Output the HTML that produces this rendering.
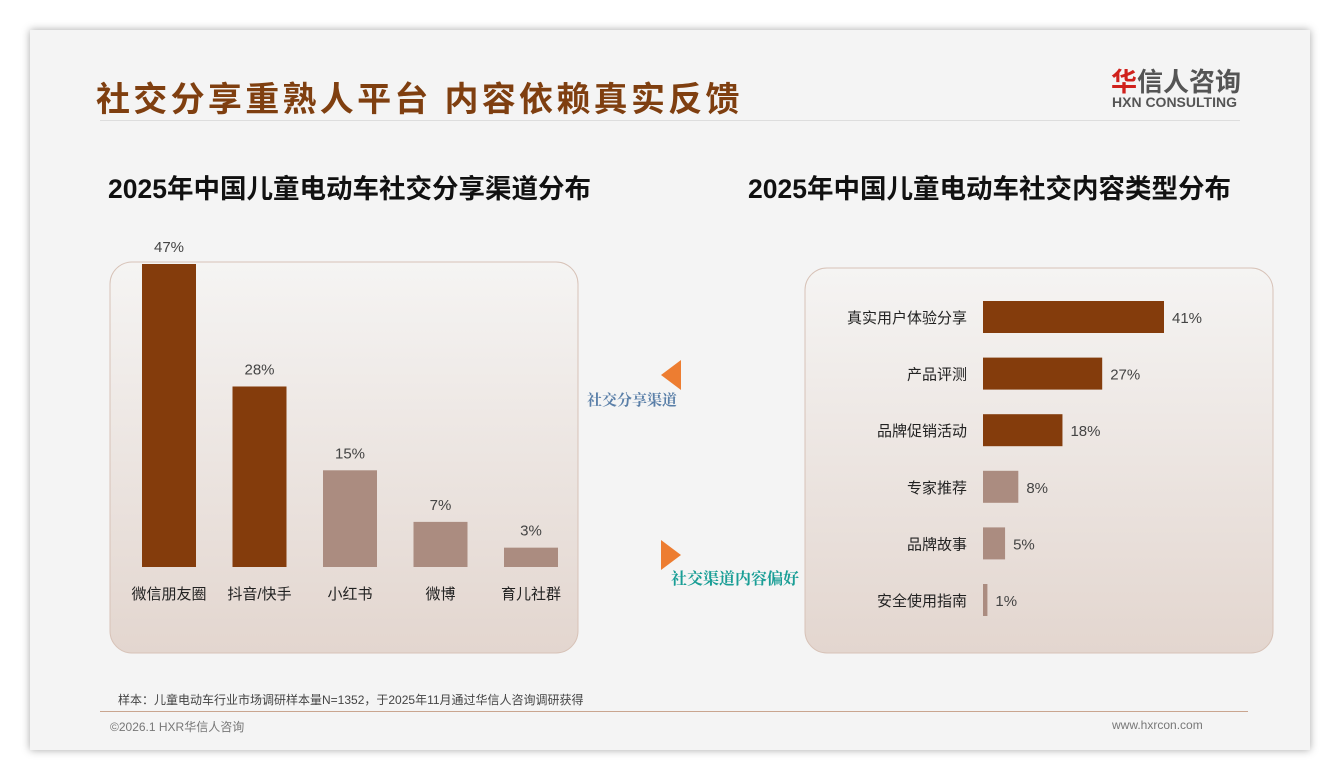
<!DOCTYPE html>
<html><head><meta charset="utf-8">
<style>
body{margin:0;width:1340px;height:780px;background:#fff;font-family:"Liberation Sans","Noto Sans CJK SC",sans-serif;position:relative;overflow:hidden}
#card{position:absolute;left:30px;top:30px;width:1280px;height:720px;background:#f4f4f4;box-shadow:0 0 8px rgba(0,0,0,.35)}
.t{position:absolute;white-space:nowrap}
</style></head><body>
<div id="card"></div>
<div class="t" style="left:96px;top:72px;font-size:34px;font-weight:bold;color:#7f3f10;letter-spacing:3.3px">社交分享重熟人平台 内容依赖真实反馈</div>
<div style="position:absolute;left:100px;top:120px;width:1140px;height:1px;background:#ddd"></div>
<div class="t" style="left:1111px;top:62px;font-size:26px;font-weight:bold;color:#555"><span style="color:#d0211c">华</span>信人咨询</div>
<div class="t" style="left:1112px;top:94px;font-size:14px;font-weight:bold;color:#555">HXN CONSULTING</div>
<div class="t" style="left:108px;top:167px;font-size:26.5px;font-weight:bold;color:#111">2025年中国儿童电动车社交分享渠道分布</div>
<div class="t" style="left:748px;top:167px;font-size:26.5px;font-weight:bold;color:#111">2025年中国儿童电动车社交内容类型分布</div>
<svg width="1340" height="780" style="position:absolute;left:0;top:0">
<defs><linearGradient id="g" x1="0" y1="0" x2="0" y2="1"><stop offset="0" stop-color="#f5f4f3"/><stop offset="1" stop-color="#e3d6cf"/></linearGradient></defs>
<rect x="110" y="262" width="468" height="391" rx="22" fill="url(#g)" stroke="#d7c2b7"/>
<rect x="805" y="268" width="468" height="385" rx="22" fill="url(#g)" stroke="#d7c2b7"/>
<polygon points="681,360 681,390 661,375" fill="#ed7d31"/>
<polygon points="661,540 661,570 681,555" fill="#ed7d31"/>
<text x="587" y="405" font-size="15" font-weight="bold" fill="#5a7fa8" font-family="Liberation Serif,Noto Serif CJK SC,serif">社交分享渠道</text>
<text x="671" y="584" font-size="16" font-weight="bold" fill="#1a9e96" font-family="Liberation Serif,Noto Serif CJK SC,serif">社交渠道内容偏好</text>
<g id="lc"></g><g id="rc"></g>
</svg>
<div class="t" style="left:118px;top:691px;font-size:12px;color:#444">样本：儿童电动车行业市场调研样本量N=1352，于2025年11月通过华信人咨询调研获得</div>
<div style="position:absolute;left:100px;top:711px;width:1148px;height:1px;background:#c9a58f"></div>
<div class="t" style="left:110px;top:718px;font-size:12px;color:#777">©2026.1 HXR华信人咨询</div>
<div class="t" style="left:1112px;top:718px;font-size:12px;color:#777">www.hxrcon.com</div>
<script>
const leftCats=["微信朋友圈","抖音/快手","小红书","微博","育儿社群"];
const leftVals=[47,28,15,7,3];
const rightCats=["真实用户体验分享","产品评测","品牌促销活动","专家推荐","品牌故事","安全使用指南"];
const rightVals=[41,27,18,8,5,1];
const NS="http://www.w3.org/2000/svg";
function mk(p,t,a,txt){const e=document.createElementNS(NS,t);for(const k in a)e.setAttribute(k,a[k]);if(txt!=null)e.textContent=txt;p.appendChild(e);return e;}
const lc=document.getElementById('lc');
const base=567,ys=v=>v*303/47,xc=i=>169+i*90.5;
leftVals.forEach((v,i)=>{
 const h=ys(v);
 const r=mk(lc,'rect',{x:xc(i)-27,y:base-h,width:54,height:h,fill:i<2?'#843c0c':'#ab8c80'});
 
 
 const l=mk(lc,'text',{x:xc(i),y:base-h-12,'text-anchor':'middle','font-size':15,fill:'#444'},v+'%');
 
 
 const c=mk(lc,'text',{x:xc(i),y:599,'text-anchor':'middle','font-size':15,fill:'#222'},leftCats[i]);
 
 
});
const rc=document.getElementById('rc');
const x0=983,xs=v=>v*181/41,yc=i=>317+i*56.6;
rightVals.forEach((v,i)=>{
 const w=Math.max(xs(v),4);
 const r=mk(rc,'rect',{x:x0,y:yc(i)-16,width:w,height:32,fill:i<3?'#843c0c':'#ab8c80'});
 
 
 const l=mk(rc,'text',{x:x0+w+8,y:yc(i)+6,'font-size':15,fill:'#444'},v+'%');
 
 
 const c=mk(rc,'text',{x:967,y:yc(i)+6,'text-anchor':'end','font-size':15,fill:'#222'},rightCats[i]);
 
 
});
</script>
</body></html>
